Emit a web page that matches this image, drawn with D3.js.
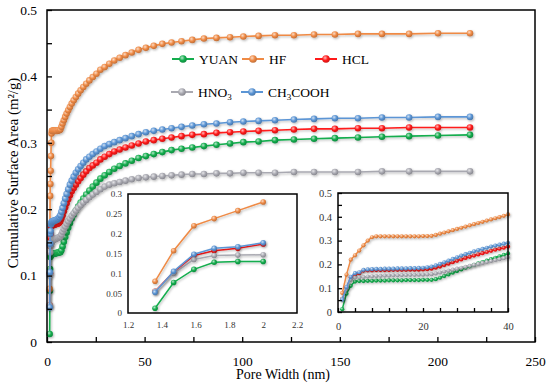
<!DOCTYPE html>
<html><head><meta charset="utf-8">
<script src="https://cdn.jsdelivr.net/npm/d3@7"></script>
<style>body{margin:0;background:#fff}svg{display:block;font-family:"Liberation Serif","Times New Roman",serif}</style>
</head><body><svg id="c" width="550" height="388"></svg>
<script>
// ---------- data ----------
const poreWidth = [1.36,1.47,1.59,1.71,1.85,2.00,2.16,2.33,2.52,2.72,2.94,3.17,3.43,3.70,4.00,4.31,4.66,5.03,5.44,5.87,6.34,6.85,7.39,7.99,8.63,9.32,10.06,10.87,11.73,12.67,13.69,14.78,15.96,17.24,18.62,20.11,21.72,23.46,25.34,27.36,29.55,31.92,34.47,37.23,40.21,43.42,46.90,50.65,54.70,59.08,63.81,68.91,74.42,80.38,86.81,93.76,100.6,108.4,116.8,126.5,136.8,147.5,159.3,171.6,185.5,200.3,216.7];
const pointIndex = [1,2,3,4,5,6,7,8,9,10,11,12,13,14,15,16,17,18,19,20,21,22,23,24,25,26,27,28,29,30,31,32,33,34,35,36,37,38,39,40];

const yuan = [0.012,0.077,0.110,0.128,0.130,0.130,
  0.131,0.131,0.132,0.132,0.132,0.133,0.133,0.133,0.133,0.134,0.134,0.134,0.134,0.135,0.135,0.135,
  0.138,0.144,0.151,0.158,0.165,0.172,0.179,0.186,0.192,0.198,0.204,0.210,0.216,0.222,0.228,0.234,0.240,0.246,
  0.251,0.256,0.261,0.265,0.269,0.273,0.277,0.280,0.283,0.286,0.289,0.291,0.293,0.295,0.297,0.299,0.301,0.302,0.304,0.305,0.306,0.307,0.308,0.309,0.310,0.311,0.312];
const hf = [0.080,0.157,0.220,0.238,0.258,0.280,
  0.300,0.314,0.318,0.318,0.318,0.318,0.318,0.318,0.318,0.318,0.318,0.318,0.318,0.319,0.319,0.320,
  0.324,0.329,0.334,0.339,0.344,0.349,0.354,0.359,0.364,0.369,0.374,0.379,0.384,0.389,0.394,0.399,0.404,0.410,
  0.414,0.419,0.424,0.428,0.432,0.436,0.440,0.443,0.446,0.449,0.451,0.453,0.455,0.457,0.458,0.459,0.460,0.461,0.462,0.462,0.463,0.463,0.464,0.464,0.464,0.465,0.465];
const hcl = [0.055,0.103,0.145,0.157,0.163,0.174,
  0.175,0.175,0.176,0.176,0.176,0.176,0.177,0.177,0.177,0.177,0.178,0.178,0.178,0.179,0.180,0.182,
  0.186,0.191,0.197,0.203,0.209,0.215,0.221,0.227,0.232,0.237,0.242,0.247,0.252,0.257,0.262,0.266,0.270,0.275,
  0.279,0.283,0.287,0.290,0.293,0.296,0.299,0.302,0.304,0.306,0.308,0.310,0.312,0.313,0.315,0.316,0.317,0.318,0.319,0.320,0.321,0.321,0.322,0.322,0.323,0.323,0.323];
const hno3 = [0.055,0.100,0.135,0.145,0.146,0.147,
  0.149,0.150,0.151,0.152,0.153,0.153,0.154,0.154,0.155,0.155,0.156,0.156,0.157,0.157,0.158,0.159,
  0.162,0.166,0.170,0.174,0.178,0.182,0.186,0.190,0.194,0.198,0.202,0.206,0.210,0.214,0.218,0.222,0.226,0.230,
  0.234,0.237,0.239,0.241,0.243,0.245,0.247,0.248,0.249,0.250,0.251,0.252,0.253,0.253,0.254,0.254,0.255,0.255,0.255,0.256,0.256,0.256,0.256,0.257,0.257,0.257,0.257];
const ch3cooh = [0.052,0.105,0.148,0.163,0.167,0.177,
  0.179,0.180,0.181,0.181,0.182,0.182,0.182,0.183,0.183,0.183,0.184,0.184,0.185,0.186,0.188,0.191,
  0.196,0.202,0.209,0.216,0.223,0.230,0.237,0.243,0.249,0.255,0.260,0.265,0.270,0.275,0.279,0.283,0.287,0.291,
  0.295,0.298,0.301,0.304,0.307,0.310,0.313,0.316,0.318,0.320,0.322,0.324,0.326,0.328,0.329,0.331,0.332,0.333,0.334,0.335,0.336,0.337,0.337,0.338,0.338,0.339,0.339];

const seriesKeys = ["YUAN","HF","HCL","HNO3","CH3COOH"];
const seriesValues = [yuan, hf, hcl, hno3, ch3cooh];
const seriesColors = ["#13ad4d","#ef8a45","#ff1a1a","#a9a9b1","#5b95d5"];

const mainXTicks = [0,50,100,150,200,250];
const mainXMinor = [0,25,50,75,100,125,150,175,200,225,250];
const mainYTicks = [0,0.1,0.2,0.3,0.4,0.5];
const mainYMinor = [0,0.05,0.1,0.15,0.2,0.25,0.3,0.35,0.4,0.45,0.5];
const in1XTicks = [1.2,1.4,1.6,1.8,2,2.2];
const in1YTicks = [0,0.05,0.1,0.15,0.2,0.25,0.3];
const in2XTicks = [0,20,40];
const in2XMinor = [0,4,8,12,16,20,24,28,32,36,40];
const in2YTicks = [0,0.1,0.2,0.3,0.4,0.5];
const in2YMinor = [0,0.05,0.1,0.15,0.2,0.25,0.3,0.35,0.4,0.45,0.5];

// ---------- drawing ----------
const FONT = "Liberation Serif, Times New Roman, serif";
const svg = d3.select("#c");
const defs = svg.append("defs");
seriesColors.forEach((c,i)=>{
  const g = defs.append("radialGradient").attr("id","sph"+i).attr("cx","38%").attr("cy","35%").attr("r","65%");
  g.append("stop").attr("offset","0%").attr("stop-color", d3.interpolateRgb(c,"#fff")(0.7));
  g.append("stop").attr("offset","55%").attr("stop-color", c);
  g.append("stop").attr("offset","100%").attr("stop-color", d3.color(c).darker(0.6));
});
const sh = defs.append("filter").attr("id","shadow").attr("x","-20%").attr("y","-20%").attr("width","140%").attr("height","140%");
sh.append("feDropShadow").attr("dx",1).attr("dy",1.2).attr("stdDeviation",0.9).attr("flood-color","#000").attr("flood-opacity",0.28);

function fmt(v){ return String(v); }

function panel(opt){
  const {x0,x1,y0,y1,xDom,yDom,xs,n,r,lw,xTicks,xMinor,yTicks,yMinor,fs,xPad,yPad,tick,labelColor} = opt;
  const x = d3.scaleLinear().domain(xDom).range([x0,x1]);
  const y = d3.scaleLinear().domain(yDom).range([y1,y0]);
  const g = svg.append("g");
  g.append("rect").attr("x",x0).attr("y",y0).attr("width",x1-x0).attr("height",y1-y0).attr("fill","#fff");
  const line = d3.line().x((d,i)=>x(xs[i])).y(d=>y(d));
  seriesValues.forEach((vals,si)=>{
    const v = vals.slice(0,n);
    const sg = g.append("g").attr("filter","url(#shadow)");
    sg.append("path").attr("d",line(v)).attr("fill","none").attr("stroke",seriesColors[si]).attr("stroke-width",lw);
    sg.selectAll("circle").data(v).join("circle")
      .attr("cx",(d,i)=>x(xs[i])).attr("cy",d=>y(d)).attr("r",r)
      .attr("fill","url(#sph"+si+")");
  });
  const ax = g.append("g").attr("transform",`translate(0,${y1})`)
    .call(d3.axisBottom(x).tickValues(xMinor||xTicks).tickSize(-tick).tickPadding(xPad)
      .tickFormat(d=> xTicks.includes(d)? fmt(d):""));
  const ay = g.append("g").attr("transform",`translate(${x0},0)`)
    .call(d3.axisLeft(y).tickValues(yMinor||yTicks).tickSize(-tick).tickPadding(yPad)
      .tickFormat(d=> yTicks.includes(d)? fmt(d):""));
  [ax,ay].forEach(a=>{
    a.attr("font-family",FONT).attr("font-size",fs);
    a.select(".domain").remove();
    a.selectAll("line").attr("stroke","#000").attr("stroke-width",1.3);
    a.selectAll("text").attr("font-size",fs).attr("fill",labelColor).attr("font-family",FONT);
  });
  g.append("rect").attr("x",x0).attr("y",y0).attr("width",x1-x0).attr("height",y1-y0)
    .attr("fill","none").attr("stroke","#000").attr("stroke-width",1.5);
  return {x,y};
}

// main chart
panel({x0:47,x1:535,y0:10,y1:342,xDom:[0,250],yDom:[0,0.5],xs:poreWidth,n:poreWidth.length,r:3.3,lw:1.6,
  xTicks:mainXTicks,xMinor:mainXMinor,yTicks:mainYTicks,yMinor:mainYMinor,fs:13.5,xPad:14,yPad:10,tick:5,labelColor:"#000"});

// legend
const legendPos = [[183,59],[253,59],[326,59],[182,92],[252,92]];
const legend = svg.append("g");
seriesKeys.forEach((k,i)=>{
  const [cx,cy] = legendPos[i];
  const lg = legend.append("g");
  lg.append("line").attr("x1",cx-11).attr("x2",cx+11).attr("y1",cy).attr("y2",cy).attr("stroke",seriesColors[i]).attr("stroke-width",2);
  lg.append("circle").attr("cx",cx).attr("cy",cy).attr("r",3.8).attr("fill","url(#sph"+i+")");
  const t = lg.append("text").attr("x",cx+16).attr("y",cy+4.5).attr("font-size",13.5).attr("fill","#000");
  if(k==="HNO3"){
    t.append("tspan").text("HNO");
    t.append("tspan").text("3").attr("font-size",9).attr("dy",3);
  } else if(k==="CH3COOH"){
    t.append("tspan").text("CH");
    t.append("tspan").text("3").attr("font-size",9).attr("dy",3);
    t.append("tspan").text("COOH").attr("dy",-3);
  } else t.text(k);
});

// axis titles
svg.append("text").attr("x",283).attr("y",379).attr("text-anchor","middle").attr("font-size",14).text("Pore Width (nm)");
svg.append("text").attr("transform","translate(18,173) rotate(-90)").attr("text-anchor","middle").attr("font-size",14.8).text("Cumulative Surface Area (m²/g)");

// inset 1 (first six points)
panel({x0:128,x1:297,y0:194,y1:313,xDom:[1.2,2.2],yDom:[0,0.3],xs:poreWidth,n:6,r:2.8,lw:1.5,
  xTicks:in1XTicks,yTicks:in1YTicks,fs:9,xPad:9,yPad:6,tick:0,labelColor:"#333"});

// inset 2 (first forty points vs point number)
panel({x0:338,x1:508,y0:193,y1:312,xDom:[0,40],yDom:[0,0.5],xs:pointIndex,n:40,r:2.1,lw:1.5,
  xTicks:in2XTicks,xMinor:in2XMinor,yTicks:in2YTicks,yMinor:in2YMinor,fs:10.5,xPad:11,yPad:6,tick:4,labelColor:"#333"});
</script></body></html>
